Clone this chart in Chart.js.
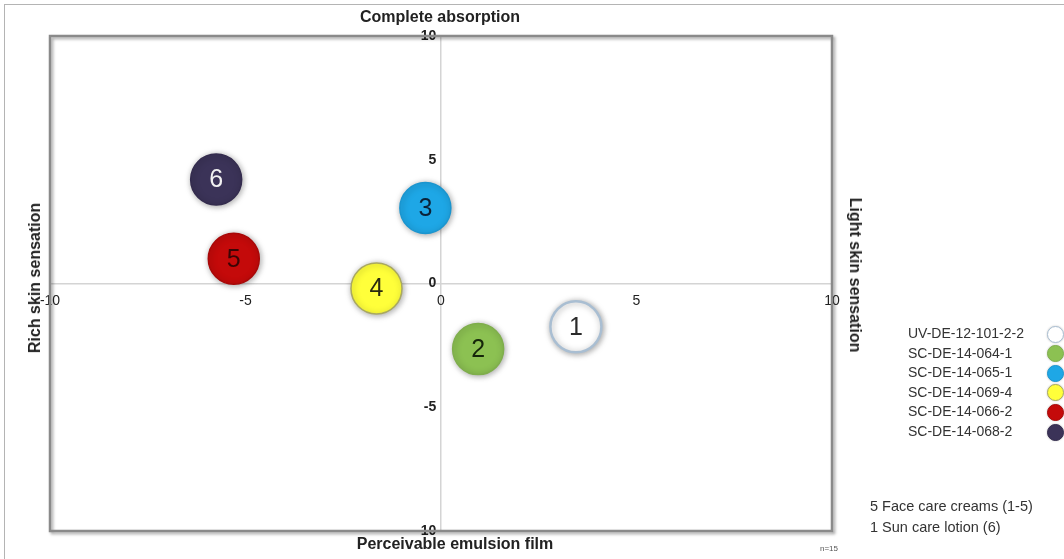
<!DOCTYPE html>
<html>
<head>
<meta charset="utf-8">
<script src="https://cdn.jsdelivr.net/npm/chart.js@4.4.1/dist/chart.umd.min.js"></script>
<style>
  html, body { margin: 0; padding: 0; background: #fff; }
  #wrap { position: relative; width: 1064px; height: 559px; overflow: hidden; font-family: "Liberation Sans", Arial, sans-serif; }
  #frame { position: absolute; left: 4px; top: 4px; width: 1100px; height: 600px; border: 1px solid #b4b4b4; box-sizing: border-box; }
  canvas { position: absolute; left: 0; top: 0; }
  .t { position: absolute; white-space: nowrap; color: #222; font-weight: bold; font-size: 16px; }
  .leg { position: absolute; white-space: nowrap; color: #333; font-size: 14px; }
  .dot { position: absolute; width: 17px; height: 17px; border-radius: 50%; box-sizing: border-box; }
</style>
</head>
<body>
<div id="wrap">
  <div id="frame"></div>
  <canvas id="c" width="1064" height="559"></canvas>
</div>
<script>
// ---- data ----
const categories = ['UV-DE-12-101-2-2','SC-DE-14-064-1','SC-DE-14-065-1','SC-DE-14-069-4','SC-DE-14-066-2','SC-DE-14-068-2'];
const pointLabels = ['1','2','3','4','5','6'];
const xValues = [3.45, 0.95, -0.4, -1.65, -5.3, -5.75];
const yValues = [-1.75, -2.65, 3.05, -0.2, 1.0, 4.2];
const xTicks = [-10, -5, 0, 5, 10];
const yTicks = [-10, -5, 0, 5, 10];
const topTitle = 'Complete absorption';
const bottomTitle = 'Perceivable emulsion film';
const leftTitle = 'Rich skin sensation';
const rightTitle = 'Light skin sensation';
const notes = ['5 Face care creams (1-5)', '1 Sun care lotion (6)'];
const sampleNote = 'n=15';

// ---- styles ----
const fills = ['#ffffff', '#8cc152', '#1ea7e6', '#ffff3a', '#c40a0a', '#3b3358'];
const borders = ['#a9bed2', '#7fae4c', '#1a95cf', '#a9a860', '#a80808', '#342c4e'];
const labelColors = ['#2a2a2a', '#15260a', '#0b2238', '#2a2a10', '#3a0505', '#f2f2f2'];
const axisLineColor = '#d4d4d4';

const wrap = document.getElementById('wrap');
function addText(cls, txt, css) {
  const d = document.createElement('div');
  d.className = cls; d.textContent = txt;
  Object.assign(d.style, css);
  wrap.appendChild(d);
  return d;
}
addText('t', topTitle, { left: '440px', top: '8px', transform: 'translateX(-50%)' });
addText('t', bottomTitle, { left: '455px', top: '535px', transform: 'translateX(-50%)' });
addText('t', leftTitle, { left: '35px', top: '278px', transform: 'translate(-50%,-50%) rotate(-90deg)' });
addText('t', rightTitle, { left: '855px', top: '275px', transform: 'translate(-50%,-50%) rotate(90deg)' });
addText('leg', sampleNote, { left: '820px', top: '544px', fontSize: '8px', color: '#555' });

categories.forEach((c, i) => {
  const y = 334 + i * 19.6;
  addText('leg', c, { left: '908px', top: (y - 9) + 'px' });
  const d = document.createElement('div');
  d.className = 'dot';
  Object.assign(d.style, { left: (1055 - 8.5) + 'px', top: (y - 8.5) + 'px', background: fills[i], border: '1.5px solid ' + borders[i], boxShadow: '0 0 2px rgba(0,0,0,0.25)' });
  wrap.appendChild(d);
});
notes.forEach((n, i) => {
  addText('leg', n, { left: '870px', top: (498 + i * 21) + 'px', fontSize: '14.5px' });
});

const datasets = categories.map((c, i) => ({
  label: c,
  data: [{ x: xValues[i], y: yValues[i] }],
  radius: 25.5,
  hoverRadius: 0,
  backgroundColor: fills[i],
  borderColor: borders[i],
  borderWidth: i === 0 ? 2.5 : 1.5
}));

const framePlugin = {
  id: 'frame',
  beforeDatasetsDraw(chart) {
    const { ctx, chartArea: a } = chart;
    ctx.save();
    ctx.shadowColor = 'rgba(0,0,0,0.35)';
    ctx.shadowBlur = 3;
    ctx.shadowOffsetX = 2;
    ctx.shadowOffsetY = 2;
    ctx.strokeStyle = '#8a8a8a';
    ctx.lineWidth = 2.5;
    ctx.strokeRect(a.left, a.top, a.right - a.left, a.bottom - a.top);
    ctx.restore();
    ctx.save();
    ctx.shadowColor = 'rgba(0,0,0,0.35)';
    ctx.shadowBlur = 6;
    ctx.shadowOffsetX = 1;
    ctx.shadowOffsetY = 1;
  },
  afterDatasetsDraw(chart) {
    const { ctx } = chart;
    ctx.restore();
    ctx.save();
    ctx.font = '25px "Liberation Sans", Arial, sans-serif';
    ctx.textAlign = 'center';
    ctx.textBaseline = 'middle';
    chart.data.datasets.forEach((ds, i) => {
      const el = chart.getDatasetMeta(i).data[0];
      ctx.fillStyle = labelColors[i];
      ctx.fillText(pointLabels[i], el.x, el.y + 1);
    });
    ctx.restore();
  }
};

new Chart(document.getElementById('c'), {
  type: 'bubble',
  data: { datasets },
  options: {
    responsive: false,
    animation: false,
    events: [],
    layout: { padding: { left: 50, top: 36, right: 232, bottom: 28 } },
    plugins: { legend: { display: false }, tooltip: { enabled: false } },
    scales: {
      x: {
        type: 'linear', min: -10, max: 10,
        position: { y: 0 },
        afterBuildTicks: s => { s.ticks = xTicks.map(v => ({ value: v })); },
        grid: {
          display: true, drawTicks: false, lineWidth: 1.5,
          color: c => (c.tick && c.tick.value === 0 ? axisLineColor : 'rgba(0,0,0,0)')
        },
        border: { display: true, color: axisLineColor, width: 1.5 },
        ticks: { padding: 9, color: '#222', font: { family: '"Liberation Sans", Arial, sans-serif', size: 14 }, maxRotation: 0, autoSkip: false }
      },
      y: {
        type: 'linear', min: -10, max: 10,
        position: { x: -0.12 },
        afterBuildTicks: s => { s.ticks = yTicks.map(v => ({ value: v })); },
        grid: { display: false },
        border: { display: false },
        ticks: { color: '#222', font: { family: '"Liberation Sans", Arial, sans-serif', size: 14, weight: 'bold' }, autoSkip: false }
      }
    }
  },
  plugins: [framePlugin]
});
</script>
</body>
</html>
